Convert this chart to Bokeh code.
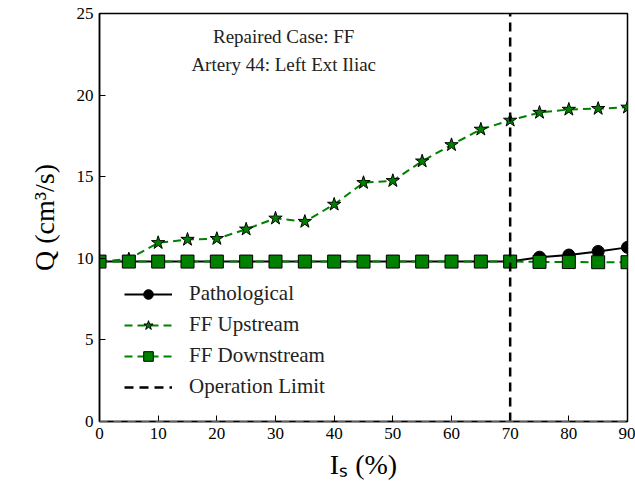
from bokeh.plotting import figure
from bokeh.models import Span, Label, Legend, LegendItem, Range1d, FixedTicker
from bokeh.embed import file_html
from bokeh.resources import INLINE

# ---- data ----
stenosis = [0, 5, 10, 15, 20, 25, 30, 35, 40, 45, 50, 55, 60, 65, 70, 75, 80, 85, 90]
pathological = [9.8, 9.8, 9.8, 9.8, 9.8, 9.8, 9.8, 9.8, 9.8, 9.8, 9.8, 9.8, 9.8, 9.8, 9.8,
                10.07, 10.2, 10.42, 10.67]
ff_upstream = [9.8, 9.95, 10.95, 11.15, 11.2, 11.78, 12.45, 12.25, 13.3, 14.63, 14.75,
               15.95, 16.95, 17.9, 18.45, 18.93, 19.12, 19.17, 19.25]
ff_downstream = [9.8, 9.8, 9.8, 9.8, 9.8, 9.8, 9.8, 9.8, 9.8, 9.8, 9.8, 9.8, 9.8, 9.8, 9.8,
                 9.78, 9.77, 9.76, 9.76]
op_limit = 70
x_ticks = [0, 10, 20, 30, 40, 50, 60, 70, 80, 90]
y_ticks = [0, 5, 10, 15, 20, 25]
x_lim = (0, 90)
y_lim = (0, 25)

FONT = "Liberation Serif"
GREEN = "#008000"

p = figure(width=635, height=488, output_backend="svg", toolbar_location=None,
           x_range=Range1d(*x_lim), y_range=Range1d(*y_lim),
           min_border_left=99, min_border_right=8, min_border_top=13, min_border_bottom=67)
p.grid.visible = False
p.outline_line_color = "black"
p.outline_line_width = 1.5
p.background_fill_color = "white"

for ax in (p.xaxis[0], p.yaxis[0]):
    ax.major_tick_in = 6
    ax.major_tick_out = 0
    ax.minor_tick_line_color = None
    ax.axis_line_color = "black"
    ax.axis_line_width = 1.5
    ax.major_tick_line_color = "black"
    ax.major_label_text_font = FONT
    ax.major_label_text_font_size = "17px"
    ax.major_label_text_color = "black"
    ax.axis_label_text_font = FONT
    ax.axis_label_text_font_size = "28px"
    ax.axis_label_text_font_style = "normal"
    ax.axis_label_text_color = "black"

p.xaxis.ticker = FixedTicker(ticks=x_ticks)
p.yaxis.ticker = FixedTicker(ticks=y_ticks)
p.xaxis.major_label_standoff = 6
p.yaxis.major_label_standoff = 6
p.xaxis.axis_label = "Iₛ (%)"
p.yaxis.axis_label = "Q (cm³/s)"
p.xaxis.axis_label_standoff = 7
p.yaxis.axis_label_standoff = 14

p.add_layout(Span(location=0, dimension="width", line_color="#bbbbbb",
                  line_dash="8 6", line_width=1.5))

l1 = p.line(stenosis, pathological, line_color="black", line_width=2)
s1 = p.scatter(stenosis, pathological, marker="circle", size=12,
               fill_color="black", line_color="black")
l2 = p.line(stenosis, ff_upstream, line_color=GREEN, line_width=2, line_dash="8 5")
s2 = p.scatter(stenosis, ff_upstream, marker="star", size=14,
               fill_color=GREEN, line_color="black", line_width=1)
l3 = p.line(stenosis, ff_downstream, line_color=GREEN, line_width=2, line_dash="8 5")
s3 = p.scatter(stenosis, ff_downstream, marker="square", size=13,
               fill_color=GREEN, line_color="black", line_width=1)
l4 = p.line([op_limit, op_limit], [y_lim[0], y_lim[1]], line_color="black",
            line_width=2.5, line_dash="9 6")

p.add_layout(Label(x=31.4, y=23.6, text="Repaired Case: FF", text_align="center",
                   text_baseline="middle", text_font=FONT, text_font_size="19px",
                   text_color="#222222"))
p.add_layout(Label(x=31.4, y=21.9, text="Artery 44: Left Ext Iliac", text_align="center",
                   text_baseline="middle", text_font=FONT, text_font_size="19px",
                   text_color="#222222"))

legend = Legend(items=[
    LegendItem(label="Pathological", renderers=[l1, s1]),
    LegendItem(label="FF Upstream", renderers=[l2, s2]),
    LegendItem(label="FF Downstream", renderers=[l3, s3]),
    LegendItem(label="Operation Limit", renderers=[l4]),
], location=(25, 22))
legend.border_line_color = None
legend.background_fill_alpha = 0
legend.label_text_font = FONT
legend.label_text_font_size = "21px"
legend.label_text_color = "#222222"
legend.glyph_width = 48
legend.glyph_height = 24
legend.label_height = 24
legend.label_standoff = 17
legend.spacing = 6
legend.padding = 4
legend.margin = 0
p.add_layout(legend)

open("out.html", "w").write(file_html(p, INLINE))
